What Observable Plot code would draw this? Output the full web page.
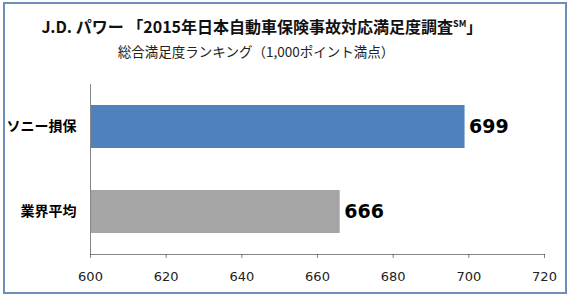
<!DOCTYPE html>
<html>
<head>
<meta charset="utf-8">
<script src="https://cdn.jsdelivr.net/npm/d3@7"></script>
<script src="https://cdn.jsdelivr.net/npm/@observablehq/plot@0.6"></script>
<style>
  html, body { margin: 0; padding: 0; background: #fff; }
  #wrap { position: relative; width: 569px; height: 294px; overflow: hidden; background: #fff; }
  #frame { position: absolute; left: 3px; top: 2px; width: 560px; height: 288px; border: 2px solid #6C8EB9; pointer-events: none; }
  #title { position: absolute; left: 0; top: 15px; width: 524px; text-align: center; font-family: "Noto Sans CJK JP", sans-serif; font-weight: bold; font-size: 16px; line-height: 22px; color: #111; white-space: nowrap; }
  #title sup { font-size: 9px; vertical-align: 6px; line-height: 0; }
  #subtitle { position: absolute; left: 0; top: 41px; width: 512px; text-align: center; font-family: "Noto Sans CJK JP", sans-serif; font-size: 13.5px; line-height: 20px; color: #222; white-space: nowrap; }
  #chart { position: absolute; left: 0; top: 70px; }
</style>
</head>
<body>
<div id="wrap">
  <div id="title">J.D. パワー 「2015年日本自動車保険事故対応満足度調査<sup>SM</sup>」</div>
  <div id="subtitle">総合満足度ランキング（1,000ポイント満点）</div>
  <div id="chart"></div>
  <div id="frame"></div>
</div>
<script>
const categories = ["ソニー損保", "業界平均"];
const values = [699, 666];
const barColors = ["#4F81BD", "#A5A5A5"];
const xTicks = [600, 620, 640, 660, 680, 700, 720];
const xDomain = [600, 720];

const data = categories.map((c, i) => ({ category: c, value: values[i], color: barColors[i] }));

const chart = Plot.plot({
  width: 569,
  height: 224,
  marginLeft: 90,
  marginRight: 25,
  marginTop: 14,
  marginBottom: 40,
  style: { fontFamily: "DejaVu Sans, sans-serif", background: "transparent", overflow: "visible" },
  x: { domain: xDomain, ticks: xTicks, label: null },
  y: { domain: categories, paddingInner: 0.5, paddingOuter: 0.25, label: null, axis: null },
  marks: [
    Plot.barX(data, { y: "category", x1: xDomain[0], x2: "value", fill: "color" }),
    Plot.frame({ anchor: "bottom", stroke: "#868686" }),
    Plot.ruleX([xDomain[0]], { stroke: "#868686", strokeWidth: 1 }),
    Plot.axisX({ ticks: xTicks, tickSize: 4, tickPadding: 13, fontSize: 13, color: "#222", strokeOpacity: 0.55, fontFamily: "DejaVu Sans, sans-serif", tickFormat: d => String(d) }),
    Plot.text(data, { y: "category", x: "value", text: d => String(d.value), textAnchor: "start", dx: 4, fontSize: 19, fontWeight: "bold", fill: "#000", fontFamily: "DejaVu Sans, sans-serif" }),
    Plot.text(data, { y: "category", x: xDomain[0], text: "category", textAnchor: "end", dx: -14, fontSize: 14, fontWeight: "bold", fill: "#000", fontFamily: "Noto Sans CJK JP, sans-serif" })
  ]
});
document.getElementById("chart").appendChild(chart);
</script>
</body>
</html>
